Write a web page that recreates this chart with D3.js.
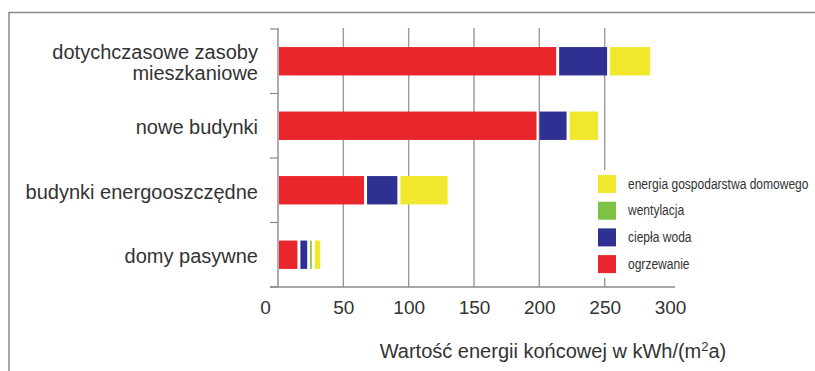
<!DOCTYPE html>
<html><head><meta charset="utf-8">
<script src="https://cdn.jsdelivr.net/npm/d3@7"></script>
<style>
html,body{margin:0;padding:0;background:#fff;}
svg{display:block;}
</style></head>
<body>
<svg id="chart" width="815" height="371"></svg>
<script>
const categories = ["dotychczasowe zasoby|mieszkaniowe", "nowe budynki", "budynki energooszczędne", "domy pasywne"];
const seriesKeys = ["ogrzewanie", "ciepła woda", "wentylacja", "energia gospodarstwa domowego"];
const ogrzewanie = [214, 199, 67, 16];
const cieplaWoda = [39, 23, 25.5, 7.5];
const wentylacja = [0, 0, 0, 3.5];
const energiaGosp = [33, 24, 38.5, 6.5];
const seriesColors = ["#e8262b", "#2e3192", "#7dc242", "#f1e72c"];
const xTicks = [0, 50, 100, 150, 200, 250, 300];
const legendOrder = ["energia gospodarstwa domowego", "wentylacja", "ciepła woda", "ogrzewanie"];
const axisTitle = "Wartość energii końcowej w kWh/(m";

const table = categories.map((c, i) => ({
  cat: c,
  "ogrzewanie": ogrzewanie[i],
  "ciepła woda": cieplaWoda[i],
  "wentylacja": wentylacja[i],
  "energia gospodarstwa domowego": energiaGosp[i]
}));

const svg = d3.select("#chart");
const color = d3.scaleOrdinal(seriesKeys, seriesColors);
const x = d3.scaleLinear([0, 300], [278, 670]);
const y = d3.scaleBand(categories, [29, 287]).paddingInner(0.56).paddingOuter(0.28);

// frame
svg.append("path")
  .attr("d", "M9,371 V12.5 H815")
  .attr("fill", "none").attr("stroke", "#8a8a8a").attr("stroke-width", 1.5);

// gridlines
svg.append("g").selectAll("line").data(xTicks.filter(d => d > 0 && d < 300)).join("line")
  .attr("x1", d => x(d)).attr("x2", d => x(d))
  .attr("y1", 28).attr("y2", 287)
  .attr("stroke", "#9a9a9a").attr("stroke-width", 1.4);

// y axis with ticks at band boundaries
const yAxisG = svg.append("g");
yAxisG.append("line").attr("x1", 278).attr("x2", 278).attr("y1", 28).attr("y2", 287)
  .attr("stroke", "#8a8a8a").attr("stroke-width", 1.4);
const boundaries = d3.range(categories.length + 1).map(i => 29 + i * y.step());
yAxisG.selectAll("line.tk").data(boundaries).join("line").attr("class", "tk")
  .attr("x1", 270).attr("x2", 278).attr("y1", d => d).attr("y2", d => d)
  .attr("stroke", "#8a8a8a").attr("stroke-width", 1.2);

// x axis
const xAxis = d3.axisBottom(x).tickValues(xTicks).tickSize(0).tickPadding(14);
const xg = svg.append("g").attr("transform", "translate(0,287)").call(xAxis);
xg.select(".domain").remove();
xg.append("line").attr("x1", 270).attr("x2", 675).attr("y1", 0).attr("y2", 0)
  .attr("stroke", "#8a8a8a").attr("stroke-width", 1.4);
xg.selectAll(".tick text")
  .attr("font-family", "Liberation Sans, Arial, sans-serif")
  .attr("font-size", 19).attr("fill", "#333")
  .attr("dx", d => d === 0 ? -13 : 0);

// stacked bars
const stack = d3.stack().keys(seriesKeys)(table);
const gap = 1.5;
svg.append("g").selectAll("g").data(stack).join("g")
  .attr("fill", d => color(d.key))
  .selectAll("rect").data(d => d.filter(s => s[1] - s[0] > 0)).join("rect")
  .attr("x", d => x(d[0]) + (d[0] === 0 ? 1 : gap))
  .attr("width", d => Math.max(0, x(d[1]) - x(d[0]) - (d[0] === 0 ? 1 : gap) - gap))
  .attr("y", d => y(d.data.cat))
  .attr("height", y.bandwidth());

// category labels
const lbl = svg.append("g").selectAll("text").data(categories).join("text")
  .attr("x", 258)
  .attr("y", d => y(d) + y.bandwidth() / 2 + 8.5)
  .attr("text-anchor", "end")
  .attr("font-family", "Liberation Sans, Arial, sans-serif")
  .attr("font-size", 20).attr("fill", "#333");
lbl.each(function(d) {
  const parts = d.split("|");
  const t = d3.select(this);
  if (parts.length === 1) { t.text(d); return; }
  parts.forEach((p, i) => {
    t.append("tspan").attr("x", 258).attr("dy", i === 0 ? -10.5 : 21).text(p);
  });
});

// axis title
const title = svg.append("text")
  .attr("x", 553).attr("y", 358).attr("text-anchor", "middle")
  .attr("font-family", "Liberation Sans, Arial, sans-serif")
  .attr("font-size", 20).attr("fill", "#333");
title.append("tspan").text(axisTitle);
title.append("tspan").attr("font-size", 13).attr("dy", -7).text("2");
title.append("tspan").attr("dy", 7).text("a)");

// legend
const lg = svg.append("g");
lg.append("rect").attr("x", 592).attr("y", 170).attr("width", 218).attr("height", 108).attr("fill", "#fff");
const li = lg.selectAll("g").data(legendOrder).join("g")
  .attr("transform", (d, i) => `translate(598,${175 + i * 26.7})`);
li.append("rect").attr("width", 18).attr("height", 18).attr("fill", d => color(d));
li.append("text")
  .attr("transform", "translate(30,13.5) scale(0.83,1)")
  .attr("font-family", "Liberation Sans, Arial, sans-serif")
  .attr("font-size", 14.5).attr("fill", "#333").text(d => d);
</script>
</body></html>
